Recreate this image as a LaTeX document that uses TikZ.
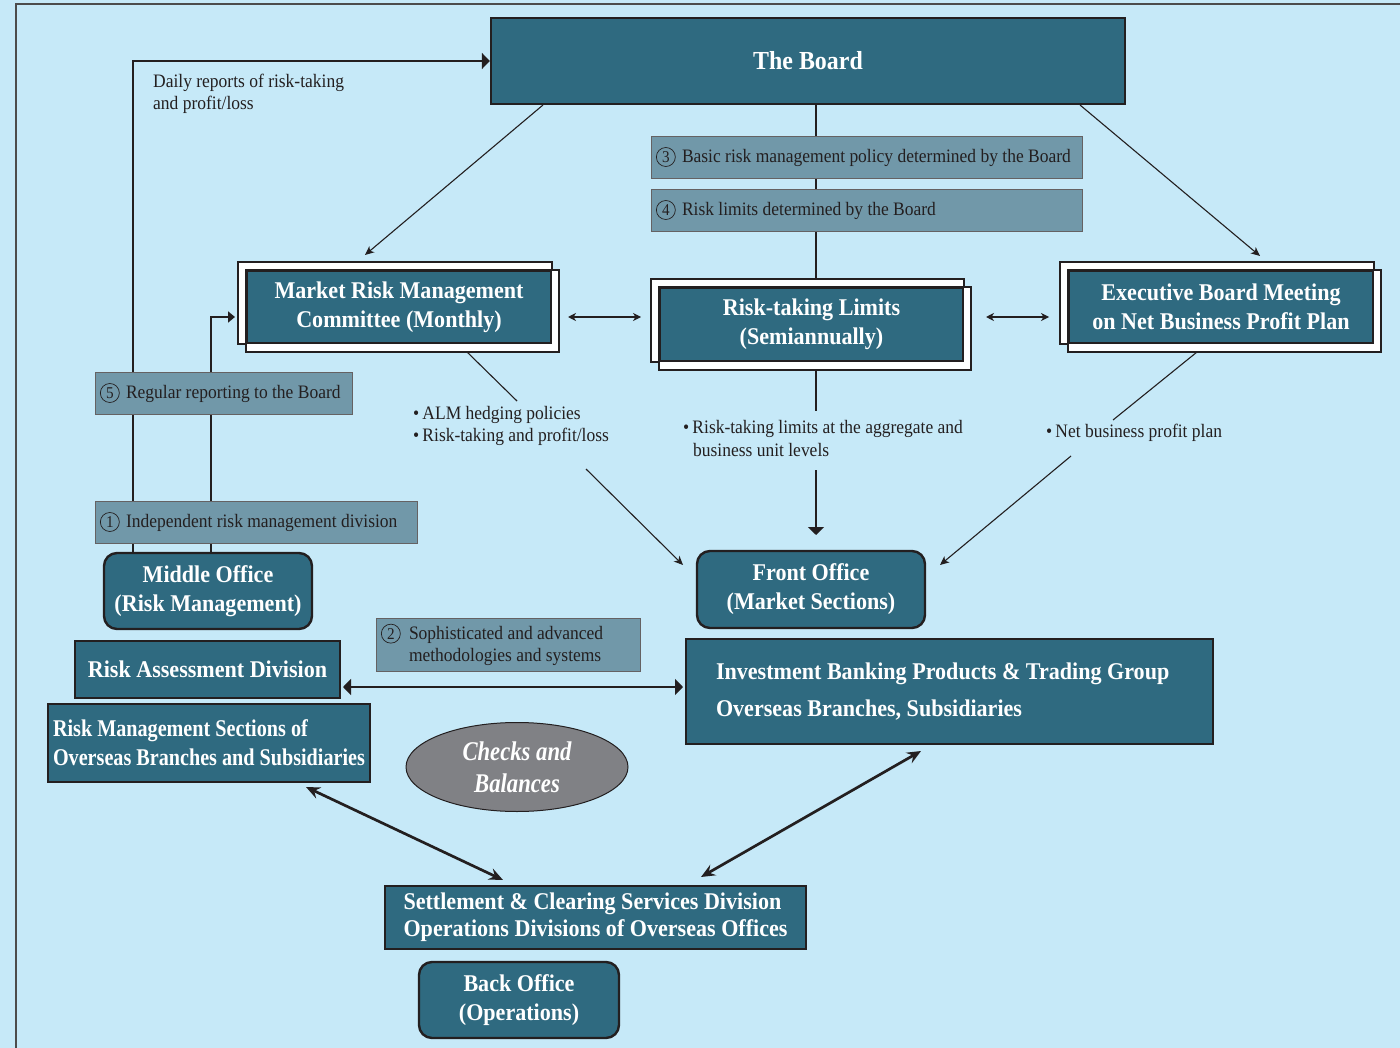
\documentclass[tikz,border=0pt]{standalone}
\usepackage{fontspec}
\setmainfont{Liberation Serif}
\newfontfamily\cf[FakeStretch=0.92]{Liberation Serif}
\newfontfamily\cfe[FakeStretch=0.84]{Liberation Serif}
\usetikzlibrary{arrows.meta,shapes.geometric,calc}
\pgfdeclarelayer{bglayer}
\pgfdeclarelayer{midlayer}
\pgfsetlayers{bglayer,midlayer,main}
\definecolor{skyb}{HTML}{C6E9F8}
\definecolor{boxt}{HTML}{2F6A80}
\definecolor{labf}{HTML}{7198A9}
\definecolor{ink}{HTML}{231F20}
\definecolor{ellg}{HTML}{808185}
\newcommand\cn[1]{\tikz[baseline=(cnd.base)]\node[circle,draw=ink,line width=0.7pt,inner sep=0pt,minimum size=19pt,font=\cf\fontsize{16.5}{16.5}\selectfont,text=ink] (cnd) {#1};}
\newcommand\dbl[1]{%
  \begin{pgfonlayer}{midlayer}
  \draw[ink,fill=white,line width=2pt] ($(#1.north west)+(-8,-8)$) rectangle (#1.south east);
  \draw[ink,fill=white,line width=2pt] (#1.north west) rectangle ($(#1.south east)+(7,8)$);
  \end{pgfonlayer}}
\tikzset{
  tbox/.style={draw=ink, line width=2.4pt, fill=boxt, text=white,
    font=\cf\bfseries\fontsize{24}{29}\selectfont, align=center, inner sep=0pt},
  rbox/.style={tbox, rounded corners=13pt},
  lbox/.style={draw=ink!70, line width=0.9pt, fill=labf, text=ink,
    font=\cf\fontsize{19}{22}\selectfont, align=flush left, inner ysep=0pt, inner xsep=5pt},
  note/.style={text=ink, font=\cf\fontsize{19}{22.5}\selectfont, align=flush left, inner sep=0pt, anchor=west},
  thinln/.style={draw=ink, line width=1.1pt},
  thinar/.style={thinln, -{Stealth[length=9pt,width=8pt,inset=2.5pt]}},
  thinboth/.style={thinln, {Stealth[length=8pt,width=8pt,inset=2.5pt]}-{Stealth[length=8pt,width=8pt,inset=2.5pt]}},
  midln/.style={draw=ink, line width=1.8pt},
  heavyln/.style={draw=ink, line width=2.7pt},
  heavyar/.style={heavyln, -{Triangle[length=8pt,width=16pt]}},
  heavyboth/.style={heavyln, {Triangle[length=8pt,width=16pt]}-{Triangle[length=8pt,width=16pt]}},
  slantboth/.style={heavyln, {Stealth[length=14pt,width=12pt,inset=5pt]}-{Stealth[length=14pt,width=12pt,inset=5pt]}}
}
\begin{document}
\begin{tikzpicture}[x=1pt,y=-1pt]
\begin{pgfonlayer}{bglayer}
\fill[skyb] (0,0) rectangle (1400,1048);
\end{pgfonlayer}
\useasboundingbox (0,0) rectangle (1400,1048);
\draw[black!70, line width=1.4pt] (16,1048) -- (16,4) -- (1400,4);

% main boxes
\node[tbox, minimum width=634, minimum height=86, font=\cf\bfseries\fontsize{26}{30}\selectfont] (board) at (808,61) {The Board};
\node[tbox, minimum width=304, minimum height=72] (mrmc) at (399,307) {Market Risk Management\\Committee (Monthly)};
\node[tbox, minimum width=303, minimum height=73] (rtl) at (811.5,324.5) {Risk-taking Limits\\(Semiannually)};
\node[tbox, minimum width=304, minimum height=72] (exec) at (1221,307) {Executive Board Meeting\\on Net Business Profit Plan};
\dbl{mrmc}\dbl{rtl}\dbl{exec}
\node[rbox, minimum width=228, minimum height=77] (front) at (811,589.5) {Front Office\\(Market Sections)};
\node[rbox, minimum width=208, minimum height=76] (middle) at (208,591) {Middle Office\\(Risk Management)};
\node[tbox, minimum width=265, minimum height=57] (rad) at (207.5,669.5) {Risk Assessment Division};
\node[tbox, minimum width=322, minimum height=78, align=left, font=\cfe\bfseries\fontsize{24}{29}\selectfont] (rms) at (209,743) {Risk Management Sections of\\Overseas Branches and Subsidiaries};
\node[tbox, minimum width=527, minimum height=105, align=flush left, text width=467, inner xsep=30pt, font=\cf\bfseries\fontsize{24}{37}\selectfont] (ibptg) at (949.5,691.5) {Investment Banking Products \& Trading Group\\Overseas Branches, Subsidiaries};
\node[tbox, minimum width=421, minimum height=63, align=left, font=\cf\bfseries\fontsize{24}{27}\selectfont] (settle) at (595.5,917.5) {Settlement \& Clearing Services Division\\Operations Divisions of Overseas Offices};
\node[rbox, minimum width=200, minimum height=76] (backo) at (519,1000) {Back Office\\(Operations)};
\node[ellipse, draw=ink, line width=1pt, fill=ellg, minimum width=222, minimum height=89, inner sep=0pt, text=white, font=\cfe\bfseries\itshape\fontsize{27}{32}\selectfont, align=center] (cb) at (517,767) {Checks and\\Balances};

% coordinates
\coordinate (c133) at (133,0);
\coordinate (c211) at (211,0);
\coordinate (c816) at (816,0);
\coordinate (mrmcin) at (235,317);
\coordinate (bA) at (543,105);
\coordinate (mA) at (365,255);
\coordinate (bB) at (1080,105);
\coordinate (eB) at (1260,256);
\coordinate (mrR) at (568,317);
\coordinate (rtL) at (641,317);
\coordinate (rtR) at (986,317);
\coordinate (exL) at (1049,317);
\coordinate (m1) at (467,352);
\coordinate (m2) at (517,401);
\coordinate (m3) at (586,469);
\coordinate (f1) at (683,565);
\coordinate (r2) at (816,411);
\coordinate (r3) at (816,470);
\coordinate (f2) at (816,535);
\coordinate (e1) at (1197,352);
\coordinate (e2) at (1113,420);
\coordinate (e3) at (1071,456);
\coordinate (f3) at (940,565);
\coordinate (radR) at (343,687);
\coordinate (ibL) at (683,687);
\coordinate (rmsS) at (306,787);
\coordinate (stL) at (503,880);
\coordinate (ibS) at (921,751);
\coordinate (stR) at (701,877);

% connectors
\draw[heavyar] (middle.north -| c133) |- (board.west);
\draw[midln, -{Triangle[length=7pt,width=11pt]}] (middle.north -| c211) |- (mrmcin);
\draw[thinar] (bA) -- (mA);
\draw[thinar] (bB) -- (eB);
\draw[midln] (board.south -| c816) -- ($(rtl.north -| c816)+(0,-7)$);
\draw[thinboth] (mrR) -- (rtL);
\draw[thinboth] (rtR) -- (exL);
\draw[thinln] (m1) -- (m2);
\draw[thinar] (m3) -- (f1);
\draw[midln] ($(rtl.south -| c816)+(0,8)$) -- (r2);
\draw[midln, -{Triangle[length=8pt,width=16pt]}] (r3) -- (f2);
\draw[thinln] (e1) -- (e2);
\draw[thinar] (e3) -- (f3);
\draw[heavyboth] (radR) -- (ibL);
\draw[slantboth] (rmsS) -- (stL);
\draw[slantboth] (ibS) -- (stR);

% labels
\node[lbox, minimum width=431, minimum height=42, text width=421] (l3) at (866.5,157) {\makebox[26pt][l]{\cn{3}}Basic risk management policy determined by the Board};
\node[lbox, minimum width=431, minimum height=42, text width=421] (l4) at (866.5,210) {\makebox[26pt][l]{\cn{4}}Risk limits determined by the Board};
\node[lbox, minimum width=257, minimum height=42, text width=247] (l5) at (223.5,393) {\makebox[26pt][l]{\cn{5}}Regular reporting to the Board};
\node[lbox, minimum width=322, minimum height=42, text width=312] (l1) at (256,522) {\makebox[26pt][l]{\cn{1}}Independent risk management division};
\node[lbox, minimum width=264, minimum height=53, text width=254] (l2) at (508,644.5) {\makebox[28pt][l]{\cn{2}}Sophisticated and advanced\\\hspace*{28pt}methodologies and systems};

% notes
\node[note] (daily) at (153,94) {Daily reports of risk-taking\\and profit/loss};
\node[note] (alm) at (413,426) {\textbullet\,ALM hedging policies\\\textbullet\,Risk-taking and profit/loss};
\node[note] (rtlnote) at (683,438.5) {\textbullet\,Risk-taking limits at the aggregate and\\\hspace*{10pt}business unit levels};
\node[note] (netnote) at (1046,433) {\textbullet\,Net business profit plan};
\end{tikzpicture}
\end{document}
